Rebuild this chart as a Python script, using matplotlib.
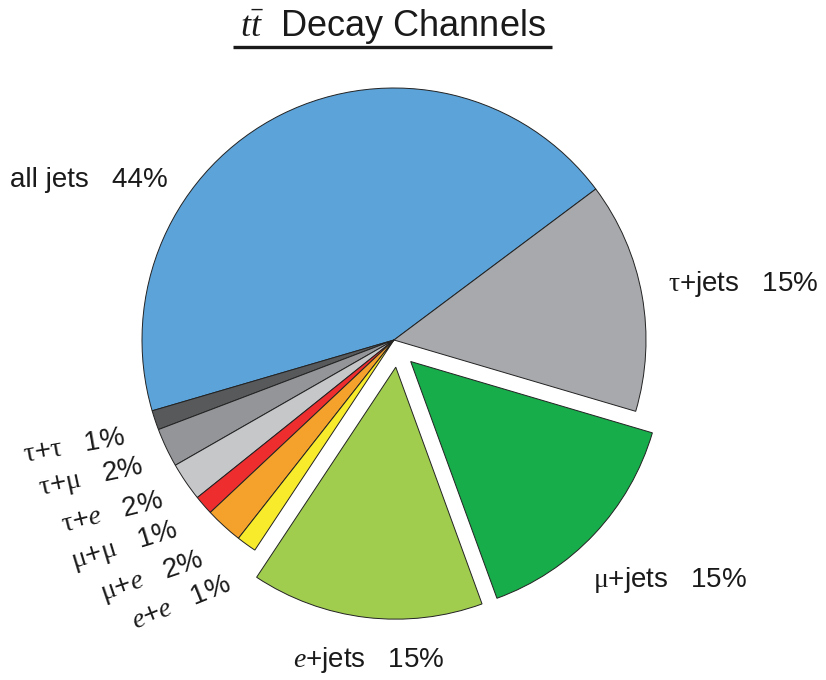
import numpy as np
import matplotlib.pyplot as plt

plt.rcParams['font.family'] = ['Liberation Sans', 'DejaVu Sans']
plt.rcParams['mathtext.fontset'] = 'custom'
plt.rcParams['mathtext.rm'] = 'Liberation Serif'
plt.rcParams['mathtext.it'] = 'Liberation Serif:italic'

# decay channels, counterclockwise from "all jets"
names = ['all jets', r'$\mathrm{\tau}$+$\mathrm{\tau}$', r'$\mathrm{\tau}$+$\mathrm{\mu}$',
         r'$\mathrm{\tau}$+$e$', r'$\mathrm{\mu}$+$\mathrm{\mu}$', r'$\mathrm{\mu}$+$e$',
         r'$e$+$e$', r'$e$+jets', r'$\mathrm{\mu}$+jets', r'$\mathrm{\tau}$+jets']
percents = [44, 1, 2, 2, 1, 2, 1, 15, 15, 15]
# angular size of each slice as drawn (degrees), small channels are enlarged
shares = [159.7, 4.5, 9.0, 8.9, 4.5, 8.7, 4.6, 53.6, 53.6, 53.3]
colors = ['#5ba3d9', '#58595b', '#939598', '#c6c7c9', '#ee2d2f', '#f5a22d',
          '#f7eb2b', '#a1cd4e', '#17ad4a', '#a7a9ac']

fig = plt.figure(figsize=(8.26, 6.8), dpi=100)
ax = fig.add_axes([0, 0, 1, 1])

cx, cy, R = 394, 340, 252
wedges, _ = ax.pie(shares, colors=colors, startangle=36.8,
                   counterclock=True, center=(cx, cy), radius=R,
                   wedgeprops=dict(edgecolor='#222222', linewidth=0.7))

# pull out e+jets and mu+jets (directions tilted a bit toward each other)
pull = {7: 10.5, 8: -9.0}
for i, tilt in pull.items():
    w = wedges[i]
    a = np.deg2rad((w.theta1 + w.theta2) / 2 + tilt)
    w.set_center((cx + 0.108 * R * np.cos(a), cy + 0.108 * R * np.sin(a)))

ax.set_xlim(0, 826)
ax.set_ylim(0, 680)
ax.axis('off')

fs = 20
# big labels
big = {0: (10, 500), 9: (668, 396), 8: (593, 100), 7: (293, 20)}
for i, (x, y) in big.items():
    ax.text(x, y, names[i] + '   %d%%' % percents[i], fontsize=fs,
            ha='left', va='center', color='#1a1a1a')

# small labels, fanned out on the lower left
small_ang = [199.8, 206.8, 214.7, 221.3, 229.0, 236.0]
small_r = [286, 281, 281, 288, 291, 293]
small_rot = [10, 12, 14, 17, 19, 22]
for k, i in enumerate(range(1, 7)):
    a = np.deg2rad(small_ang[k])
    x = cx + small_r[k] * np.cos(a)
    y = cy + small_r[k] * np.sin(a)
    ax.text(x, y, names[i] + '   %d%%' % percents[i], fontsize=fs,
            ha='right', va='center', rotation=small_rot[k],
            rotation_mode='anchor', color='#1a1a1a')

# title with underline
ax.text(393, 654, r'$t\bar{t}$  Decay Channels', fontsize=26,
        ha='center', va='center', color='#1a1a1a')
ax.plot([233, 552], [633, 633], color='#1a1a1a', linewidth=2.4,
        solid_capstyle='butt')

fig.savefig('out.png', dpi=100)
